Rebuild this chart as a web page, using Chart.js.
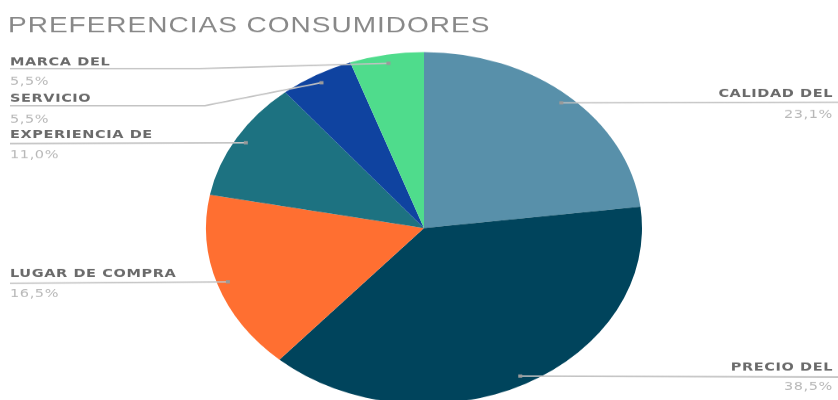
<!DOCTYPE html>
<html><head><meta charset="utf-8">
<script src="https://cdn.jsdelivr.net/npm/chart.js@4"></script>
<style>
html,body{margin:0;padding:0;background:#fff;overflow:hidden;width:838px;height:400px}
#wrap{position:absolute;left:0;top:0;width:838px;height:520px;transform:scaleY(0.8073);transform-origin:0 0;filter:blur(0.6px)}
</style></head><body>
<div id="wrap"><canvas id="c"></canvas></div>
<script>
const title = 'PREFERENCIAS CONSUMIDORES';
const categories = ['CALIDAD DEL', 'PRECIO DEL', 'LUGAR DE COMPRA', 'EXPERIENCIA DE', 'SERVICIO', 'MARCA DEL'];
const values = [23.1, 38.5, 16.5, 11.0, 5.5, 5.5];
const valueLabels = ['23,1%', '38,5%', '16,5%', '11,0%', '5,5%', '5,5%'];
const colors = ['#5890aa', '#00445c', '#ff6f31', '#1d7281', '#0f43a0', '#4fdc8c'];

// layout (in reference pixel rows); S = vertical squash of the whole picture
const S = 0.8073;
const labelLayout = [
  {side: 'right', name: 96.7, line: 102.3, pct: 118},
  {side: 'right', name: 370.7, line: 377, pct: 390},
  {side: 'left', name: 276.7, line: 283.3, pct: 297},
  {side: 'left', name: 138, line: 143.5, pct: 158},
  {side: 'left', name: 102, line: 105.7, pct: 123, elbow: 205},
  {side: 'left', name: 65, line: 68.5, pct: 85, elbow: 200}
];

const labelPlugin = {
  id: 'labels',
  afterDraw(chart) {
    const ctx = chart.ctx;
    const arcs = chart.getDatasetMeta(0).data;
    ctx.save();
    ctx.fillStyle = '#888888';
    ctx.font = '28px "Liberation Sans", Arial, sans-serif';
    ctx.textBaseline = 'alphabetic';
    ctx.textAlign = 'left';
    ctx.letterSpacing = '1px';
    ctx.fillText(title, 8, 32 / S);
    arcs.forEach((a, i) => {
      const p = a.getProps(['x', 'y', 'startAngle', 'endAngle', 'outerRadius'], true);
      const mid = (p.startAngle + p.endAngle) / 2;
      const r = p.outerRadius * 0.95;
      const dx = p.x + Math.cos(mid) * r, dy = p.y + Math.sin(mid) * r;
      const L = labelLayout[i];
      const ly = L.line / S;
      ctx.strokeStyle = '#c2c2c2';
      ctx.lineWidth = 1.8;
      ctx.beginPath();
      if (L.side === 'right') {
        ctx.moveTo(dx, dy);
        ctx.lineTo(838, ly);
      } else {
        ctx.moveTo(10, ly);
        if (L.elbow) ctx.lineTo(L.elbow, ly);
        ctx.lineTo(dx, dy);
      }
      ctx.stroke();
      ctx.fillStyle = '#9a9a9a';
      ctx.fillRect(dx - 2, dy - 2, 4, 4);
      const tx = L.side === 'right' ? 833 : 10;
      ctx.textAlign = L.side === 'right' ? 'right' : 'left';
      ctx.letterSpacing = '0.6px';
      ctx.fillStyle = '#6a6a6a';
      ctx.font = 'bold 14.5px "DejaVu Sans", sans-serif';
      ctx.fillText(categories[i], tx, L.name / S);
      ctx.fillStyle = '#b8b8b8';
      ctx.font = '14.5px "DejaVu Sans", sans-serif';
      ctx.fillText(valueLabels[i], tx, L.pct / S);
    });
    ctx.restore();
  }
};

new Chart(document.getElementById('c'), {
  type: 'pie',
  data: {
    labels: categories,
    datasets: [{
      data: values,
      backgroundColor: colors,
      borderWidth: 0,
      hoverOffset: 0,
      offset: 0
    }]
  },
  options: {
    responsive: true,
    maintainAspectRatio: false,
    animation: false,
    layout: {padding: {left: 206, right: 196, top: 64.4, bottom: 19.6}},
    plugins: {legend: {display: false}, tooltip: {enabled: false}, title: {display: false}}
  },
  plugins: [labelPlugin]
});
</script>
</body></html>
